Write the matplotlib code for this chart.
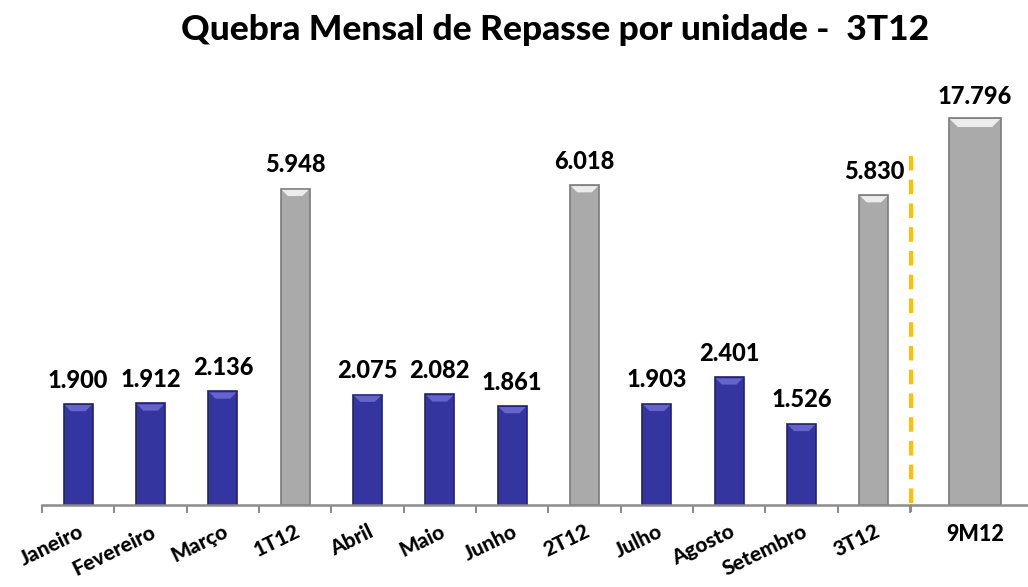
import matplotlib
matplotlib.use("Agg")
import matplotlib.pyplot as plt
from matplotlib.patches import Polygon

categories = ["Janeiro", "Fevereiro", "Março", "1T12", "Abril", "Maio", "Junho",
              "2T12", "Julho", "Agosto", "Setembro", "3T12"]
values = [1900, 1912, 2136, 5948, 2075, 2082, 1861, 6018, 1903, 2401, 1526, 5830]
is_quarter = [False, False, False, True, False, False, False, True, False, False, False, True]
total_label = "9M12"
total_value = 17796
title = "Quebra Mensal de Repasse por unidade -  3T12"

plt.rcParams['font.family'] = ['Lato', 'DejaVu Sans']

BLUE, BLUE_EDGE, BLUE_HI = "#3535A0", "#22226E", "#6A6AD2"
GRAY, GRAY_EDGE, GRAY_HI = "#AAAAAA", "#7A7A7A", "#F4F4F4"
AXIS = "#8C8C8C"

def fmt(v):
    return f"{v:,}".replace(",", ".")

W, H = 1028, 587
fig = plt.figure(figsize=(W / 100, H / 100), dpi=100)

y0 = (H - 505) / H
ytop = (H - 100) / H
ax = fig.add_axes([42 / W, y0, (910 - 42) / W, ytop - y0])
ax2 = fig.add_axes([911 / W, y0, 128 / W, ytop - y0])

px_per_unit = 101 / 1900
ax.set_ylim(0, 405 / px_per_unit)
ax.set_xlim(-0.5, len(categories) - 0.5)
ax2.set_ylim(0, 405 / (387 / total_value))
ax2.set_xlim(-0.5, 0.5)

def bevel(a, bar, hi):
    x, w, h = bar.get_x(), bar.get_width(), bar.get_height()
    trans = a.transData
    inv = trans.inverted()
    dx0, dy0 = trans.transform((x, h))
    bx, by = trans.transform((x + w, h))
    bw = bx - dx0
    cap = min(bw * 0.25, 9)
    pts_disp = [(dx0 + 1, dy0 - 1), (bx - 1, by - 1), (bx - cap, by - cap), (dx0 + cap, dy0 - cap)]
    pts = inv.transform(pts_disp)
    a.add_patch(Polygon(pts, closed=True, facecolor=hi, edgecolor='none', alpha=0.9, zorder=3))

x = list(range(len(categories)))
colors = [GRAY if q else BLUE for q in is_quarter]
edges = [GRAY_EDGE if q else BLUE_EDGE for q in is_quarter]
bars = ax.bar(x, values, width=0.4, color=colors, edgecolor=edges, linewidth=1.2, zorder=2)
for b, q, v in zip(bars, is_quarter, values):
    bevel(ax, b, GRAY_HI if q else BLUE_HI)
    ax.annotate(fmt(v), (b.get_x() + b.get_width() / 2, v), xytext=(0, 9),
                textcoords="offset points", ha="center", va="bottom",
                fontsize=17, fontweight="black", color="black")

ax.set_xticks([i - 0.5 for i in range(len(categories) + 1)], minor=False)
ax.set_xticklabels([])
ax.tick_params(axis='x', length=6, width=1.5, color=AXIS, direction='out')
ax.set_xticks(x, minor=True)
ax.set_xticklabels(categories, minor=True, rotation=26, ha='right', va='top',
                   rotation_mode='anchor', fontsize=15, fontweight='black')
ax.tick_params(axis='x', which='minor', length=0, pad=12)
ax.set_yticks([])
for s in ["top", "right", "left"]:
    ax.spines[s].set_visible(False)
ax.spines["bottom"].set_color(AXIS)
ax.spines["bottom"].set_linewidth(1.8)

b2 = ax2.bar([0], [total_value], width=0.41, color=GRAY, edgecolor=GRAY_EDGE, linewidth=1.2, zorder=2)
bevel(ax2, b2[0], GRAY_HI)
ax2.annotate(fmt(total_value), (0, total_value), xytext=(0, 7), textcoords="offset points",
             ha="center", va="bottom", fontsize=17, fontweight="black")
ax2.set_xticks([-0.5])
ax2.set_xticklabels([])
ax2.tick_params(axis='x', length=5, width=1.5, color=AXIS)
ax2.set_xticks([0], minor=True)
ax2.set_xticklabels([total_label], minor=True, fontsize=15.5, fontweight='black')
ax2.tick_params(axis='x', which='minor', length=0, pad=14)
ax2.set_yticks([])
for s in ["top", "right", "left"]:
    ax2.spines[s].set_visible(False)
ax2.spines["bottom"].set_color(AXIS)
ax2.spines["bottom"].set_linewidth(1.8)
ax2.patch.set_alpha(0)

# dashed separator
fig.add_artist(plt.Line2D([911 / W, 911 / W], [(H - 503) / H, (H - 148) / H],
                          transform=fig.transFigure, color="#FFC000", lw=3,
                          dashes=(3.5, 2.2)))

fig.text(555 / W, 1 - 30 / H, title, ha='center', va='center', fontsize=25.5, fontweight='black')

fig.savefig("out.png", dpi=100)
